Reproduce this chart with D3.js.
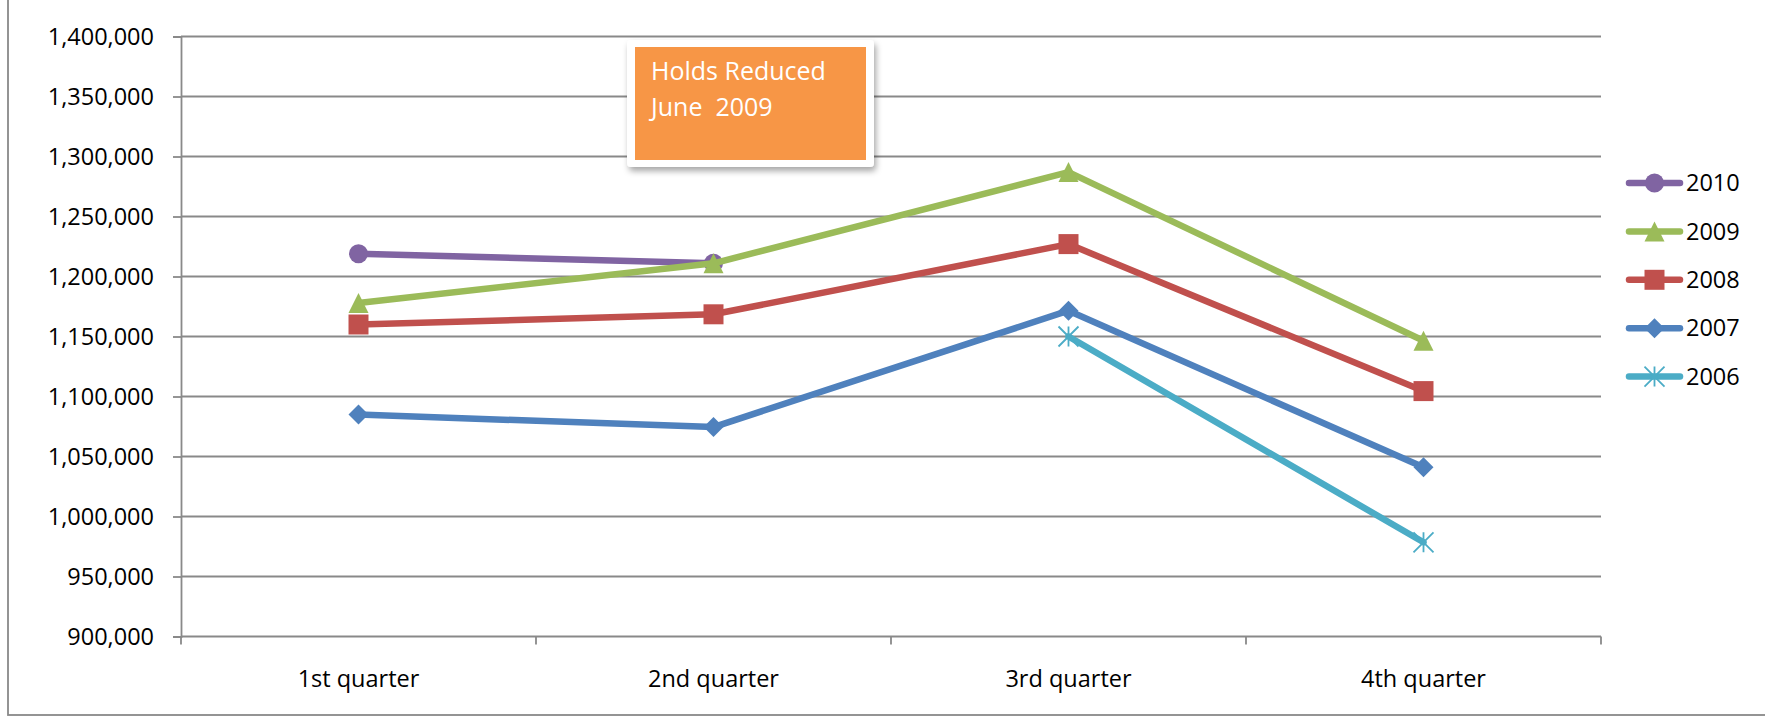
<!DOCTYPE html>
<html>
<head>
<meta charset="utf-8">
<script src="https://cdn.jsdelivr.net/npm/d3@7"></script>
<style>
  html, body { margin: 0; padding: 0; background: #fff; }
  svg { display: block; font-family: 'Open Sans', 'Noto Sans', sans-serif; }
</style>
</head>
<body>
<div id="app"></div>
<script>
const width = 1765;
const height = 717;

// data
const categories = ['1st quarter', '2nd quarter', '3rd quarter', '4th quarter'];
const years = ['2010', '2009', '2008', '2007', '2006'];
const s2010 = [1219000, 1211000, null, null];
const s2009 = [1178000, 1211000, 1287000, 1146500];
const s2008 = [1160000, 1168500, 1227000, 1104500];
const s2007 = [1085000, 1074500, 1171500, 1041000];
const s2006 = [null, null, 1150000, 978500];
const yTicks = [900000, 950000, 1000000, 1050000, 1100000, 1150000,
  1200000, 1250000, 1300000, 1350000, 1400000];
const noteLines = ['Holds Reduced', 'June  2009'];

const seriesValues = [s2010, s2009, s2008, s2007, s2006];
const colors = ['#8064A2', '#9BBB59', '#C0504D', '#4F81BD', '#4BACC6'];
const markers = ['circle', 'triangle', 'square', 'diamond', 'star'];

const gridColor = '#898989';

const svg = d3.select('#app').append('svg')
  .attr('width', width)
  .attr('height', height);

const defs = svg.append('defs');
const shadow = defs.append('filter')
  .attr('id', 'shadow')
  .attr('x', '-10%').attr('y', '-10%')
  .attr('width', '130%').attr('height', '140%');
shadow.append('feDropShadow')
  .attr('dx', 2).attr('dy', 4)
  .attr('stdDeviation', 3)
  .attr('flood-color', '#000')
  .attr('flood-opacity', 0.35);

// outer chart frame (top and right are cut off)
svg.append('rect')
  .attr('x', 8).attr('y', -10)
  .attr('width', width + 20).attr('height', 725)
  .attr('fill', 'none')
  .attr('stroke', gridColor)
  .attr('stroke-width', 1.8);

const x = d3.scaleBand().domain(categories).range([181, 1601]);
const y = d3.scaleLinear().domain([900000, 1400000]).range([636.5, 36.5]);

// gridlines
svg.append('g')
  .selectAll('line')
  .data(yTicks)
  .join('line')
  .attr('x1', x.range()[0])
  .attr('x2', x.range()[1])
  .attr('y1', d => y(d))
  .attr('y2', d => y(d))
  .attr('stroke', gridColor)
  .attr('stroke-width', 1.8);

// y axis
const yAxis = svg.append('g')
  .attr('transform', `translate(${x.range()[0]},0)`)
  .call(d3.axisLeft(y)
    .tickValues(yTicks)
    .tickSize(8)
    .tickPadding(19)
    .tickFormat(d3.format(',')));
yAxis.select('.domain').attr('stroke', gridColor).attr('stroke-width', 1.8);
yAxis.selectAll('.tick line').attr('stroke', gridColor).attr('stroke-width', 1.8);
yAxis.selectAll('text')
  .attr('font-family', "'Open Sans', sans-serif")
  .attr('font-size', 23.5)
  .attr('fill', '#000');

// x axis: labels at centres, ticks at the boundaries
const xAxis = svg.append('g')
  .attr('transform', `translate(0,${y.range()[0]})`)
  .call(d3.axisBottom(x).tickSize(0).tickPadding(34));
xAxis.select('.domain').remove();
xAxis.selectAll('text')
  .attr('font-family', "'Open Sans', sans-serif")
  .attr('font-size', 23.5)
  .attr('fill', '#000');

const bounds = categories.map(c => x(c)).concat([x.range()[1]]);
svg.append('g')
  .selectAll('line')
  .data(bounds)
  .join('line')
  .attr('x1', d => d).attr('x2', d => d)
  .attr('y1', y.range()[0])
  .attr('y2', y.range()[0] + 8)
  .attr('stroke', gridColor)
  .attr('stroke-width', 1.8);

const markerPath = (type, s) => {
  const h = s / 2;
  switch (type) {
    case 'circle':
      return `M${-h},0A${h},${h} 0 1,0 ${h},0A${h},${h} 0 1,0 ${-h},0Z`;
    case 'square':
      return `M${-h},${-h}H${h}V${h}H${-h}Z`;
    case 'triangle':
      return `M0,${-h}L${h},${h}H${-h}Z`;
    case 'diamond':
      return `M0,${-h}L${h},0L0,${h}L${-h},0Z`;
    case 'star':
      return `M${-h},${-h}L${h},${h}M${h},${-h}L${-h},${h}M0,${-h}V${h}`;
  }
};

const drawMarker = (g, type, color, cx, cy) => {
  const p = g.append('path')
    .attr('transform', `translate(${cx},${cy})`)
    .attr('d', markerPath(type, type === 'circle' ? 19 : 20));
  if (type === 'star') {
    p.attr('fill', 'none').attr('stroke', color).attr('stroke-width', 1.8);
  } else {
    p.attr('fill', color);
  }
};

const line = d3.line()
  .defined(d => d.v != null)
  .x(d => x(d.c) + x.bandwidth() / 2)
  .y(d => y(d.v));

const plot = svg.append('g');
seriesValues.forEach((vals, i) => {
  const pts = vals.map((v, j) => ({ c: categories[j], v }));
  const g = plot.append('g');
  g.append('path')
    .datum(pts)
    .attr('d', line)
    .attr('fill', 'none')
    .attr('stroke', colors[i])
    .attr('stroke-width', 6.5)
    .attr('stroke-linejoin', 'round')
    .attr('stroke-linecap', 'round');
  pts.filter(d => d.v != null).forEach(d => {
    drawMarker(g, markers[i], colors[i], x(d.c) + x.bandwidth() / 2, y(d.v));
  });
});

// legend
const legend = svg.append('g').attr('transform', 'translate(1626,183)');
years.forEach((yr, i) => {
  const row = legend.append('g').attr('transform', `translate(0,${i * 48.4})`);
  row.append('line')
    .attr('x1', 3).attr('x2', 54)
    .attr('stroke', colors[i])
    .attr('stroke-width', 6.5)
    .attr('stroke-linecap', 'round');
  drawMarker(row, markers[i], colors[i], 28.5, 0);
  row.append('text')
    .attr('x', 60)
    .attr('dy', '0.35em')
    .attr('font-size', 23.5)
    .attr('fill', '#000')
    .text(yr);
});

// annotation box
const note = svg.append('g');
note.append('rect')
  .attr('x', 627).attr('y', 40)
  .attr('width', 247).attr('height', 127)
  .attr('rx', 4)
  .attr('fill', '#fff')
  .attr('filter', 'url(#shadow)');
note.append('rect')
  .attr('x', 635).attr('y', 47)
  .attr('width', 231).attr('height', 113)
  .attr('fill', '#F79646');
note.selectAll('text')
  .data(noteLines)
  .join('text')
  .attr('x', 651)
  .attr('y', (d, i) => 80 + i * 36)
  .attr('font-size', 25)
  .attr('fill', '#fff')
  .style('white-space', 'pre')
  .text(d => d);
</script>
</body>
</html>
